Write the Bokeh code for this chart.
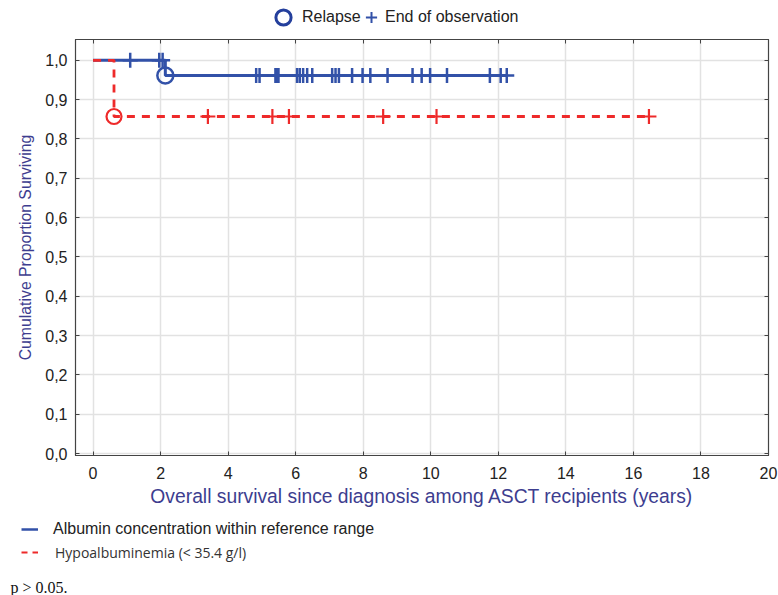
import numpy as np
from bokeh.plotting import figure
from bokeh.layouts import column
from bokeh.models import (Range1d, FixedTicker, LinearAxis, CustomJSTickFormatter,
                          Legend, LegendItem, Label)
from bokeh.embed import file_html
from bokeh.resources import INLINE

# ---------------- data ----------------
blue_name = "Albumin concentration within reference range"
red_name = "Hypoalbuminemia (< 35.4 g/l)"
blue_event_times = [2.14]
blue_censor_times = [1.10, 1.96, 2.06, 4.83, 4.93, 5.40, 5.43, 5.46, 5.49,
                     6.04, 6.12, 6.22, 6.34, 6.49, 7.08, 7.18, 7.28, 7.67,
                     7.98, 8.21, 8.72, 9.46, 9.73, 9.98, 10.48, 11.75, 12.07, 12.25]
red_event_times = [0.62]
red_censor_times = [3.40, 5.31, 5.80, 8.59, 10.17, 16.46]
x_ticks = [0, 2, 4, 6, 8, 10, 12, 14, 16, 18, 20]
y_ticks = [0.0, 0.1, 0.2, 0.3, 0.4, 0.5, 0.6, 0.7, 0.8, 0.9, 1.0]
x_title = "Overall survival since diagnosis among ASCT recipients (years)"
y_title = "Cumulative Proportion Surviving"
legend_top = ["Relapse", "End of observation"]
p_text = "p > 0.05."

BLUE = "#3251a8"
NAVY = "#243f9c"
RED = "#ee2a2a"
TITLE_C = "#3d3d8f"
TXT = "#222222"
FONT = "Liberation Sans"
W = 778
FRAME_LEFT = 75  # the top strip shares the main plot's frame alignment


def kaplan_meier(events, censors):
    all_t = np.array(events + censors, dtype=float)
    s = 1.0
    xs, ys = [0.0], [1.0]
    steps = []
    for t in sorted(set(events)):
        at_risk = np.sum(all_t >= t)
        d = events.count(t)
        s *= 1.0 - d / at_risk
        xs.append(t)
        ys.append(s)
        steps.append((t, s))
    xs.append(float(all_t.max()))
    ys.append(s)

    def surv(t):
        v = 1.0
        for te, sv in steps:
            if te <= t:
                v = sv
        return v

    return xs, ys, surv


bx, by, bsurv = kaplan_meier(blue_event_times, blue_censor_times)
rx, ry, rsurv = kaplan_meier(red_event_times, red_censor_times)

# ---------------- main plot ----------------
p = figure(width=W, height=472, output_backend="svg", toolbar_location=None,
           x_range=Range1d(-0.52, 20), y_range=Range1d(-0.005, 1.053),
           min_border_left=FRAME_LEFT, min_border_right=10, min_border_top=1,
           min_border_bottom=55, background_fill_color="white",
           border_fill_color="white")
p.outline_line_color = "#444444"
p.outline_line_width = 1.2

xt = FixedTicker(ticks=x_ticks)
yt = FixedTicker(ticks=y_ticks)
p.xaxis.ticker = xt
p.yaxis.ticker = yt
p.yaxis.formatter = CustomJSTickFormatter(code="return tick.toFixed(1).replace('.', ',');")
for ax in (p.xaxis[0], p.yaxis[0]):
    ax.major_tick_in = 4
    ax.major_tick_out = 0
    ax.minor_tick_line_color = None
    ax.axis_line_color = "#444444"
    ax.major_tick_line_color = "#444444"
    ax.major_label_text_font = FONT
    ax.major_label_text_font_size = "16px"
    ax.major_label_text_color = TXT
    ax.axis_label_text_font = FONT
    ax.axis_label_text_font_style = "normal"
    ax.axis_label_text_color = TITLE_C
p.xaxis.axis_label = x_title
p.xaxis.axis_label_text_font_size = "19.3px"
p.xaxis.major_label_standoff = 11
p.xaxis.axis_label_standoff = 4
p.yaxis.axis_label = y_title
p.yaxis.axis_label_text_font_size = "15.8px"
p.yaxis.major_label_standoff = 8
p.yaxis.axis_label_standoff = 8

# mirrored inward ticks on the right and top edges (no labels)
blank = CustomJSTickFormatter(code="return '';")
for loc, tk in (("right", yt), ("above", xt)):
    p.add_layout(LinearAxis(ticker=tk, formatter=blank, major_tick_in=4, major_tick_out=0,
                            minor_tick_line_color=None, major_label_standoff=0,
                            axis_line_color="#444444", major_tick_line_color="#444444"),
                 loc)

p.xgrid.ticker = xt
p.ygrid.ticker = yt
p.xgrid.grid_line_color = "#e2e2e2"
p.ygrid.grid_line_color = "#e2e2e2"
p.xgrid.grid_line_width = 1.5
p.ygrid.grid_line_width = 1.5

p.step(bx, by, mode="after", line_color=BLUE, line_width=3)
p.step(rx, ry, mode="after", line_color=RED, line_width=2.8, line_dash="8 7")
p.scatter(blue_censor_times, [bsurv(t) for t in blue_censor_times],
          marker="cross", size=15, line_color=BLUE, line_width=2.5)
p.scatter(red_censor_times, [rsurv(t) for t in red_censor_times],
          marker="cross", size=15, line_color=RED, line_width=2.2)
p.scatter(blue_event_times, [bsurv(t) for t in blue_event_times],
          marker="circle", size=16, fill_color=None, line_color=BLUE, line_width=2.5)
p.scatter(red_event_times, [rsurv(t) for t in red_event_times],
          marker="circle", size=15, fill_color=None, line_color=RED, line_width=2.2)


# ---------------- helper strips for legends / note ----------------
def strip(h):
    f = figure(width=W, height=h, output_backend="svg", toolbar_location=None,
               x_range=Range1d(0, 1), y_range=Range1d(0, 1),
               x_axis_location=None, y_axis_location=None, min_border=0,
               outline_line_color=None, background_fill_color="white",
               border_fill_color="white")
    f.xgrid.grid_line_color = None
    f.ygrid.grid_line_color = None
    return f


def mk_legend(f, item, loc, w, h, font_size, font=FONT, color=TXT, standoff=0):
    lg = Legend(items=[item], location=loc, orientation="horizontal",
                glyph_width=w, glyph_height=h, label_height=h,
                label_standoff=standoff, padding=0, margin=0, spacing=0,
                border_line_color=None, background_fill_alpha=0,
                label_text_font=font, label_text_font_size=font_size,
                label_text_color=color)
    f.add_layout(lg)


# legend key renderers: one point each, outside the strip's visible range
top = strip(38)
k_circle = top.scatter([-5], [-5], marker="circle", fill_color=None, line_color=NAVY, line_width=3)
k_cross = top.scatter([-5], [-5], marker="cross", line_color=BLUE, line_width=2)
mk_legend(top, LegendItem(label=legend_top[0], renderers=[k_circle]),
          (264 - FRAME_LEFT, 2), 38, 38, "16px")
mk_legend(top, LegendItem(label=legend_top[1], renderers=[k_cross]),
          (357 - FRAME_LEFT, 7), 28, 28, "16px")

# bottom strip: separate root, so its frame starts at the left edge
bottom = strip(85)
k_blue = bottom.line([-5, -4], [-5, -5], line_color=BLUE, line_width=2.5)
k_red = bottom.line([-5, -4], [-5, -5], line_color=RED, line_width=2.2, line_dash="6 5")
mk_legend(bottom, LegendItem(label=blue_name, renderers=[k_blue]), (21, 56), 17, 20, "16px",
          standoff=15)
mk_legend(bottom, LegendItem(label=red_name, renderers=[k_red]), (21, 33), 17, 20, "14px",
          font="Open Sans", color="#333333", standoff=17)
bottom.add_layout(Label(x=10, y=8, x_units="screen", y_units="screen", text=p_text,
                        text_font="Liberation Serif", text_font_size="16px",
                        text_color="#111111", text_baseline="alphabetic"))

layout = column(top, p, spacing=0)
open("out.html", "w").write(file_html([layout, bottom], INLINE))
